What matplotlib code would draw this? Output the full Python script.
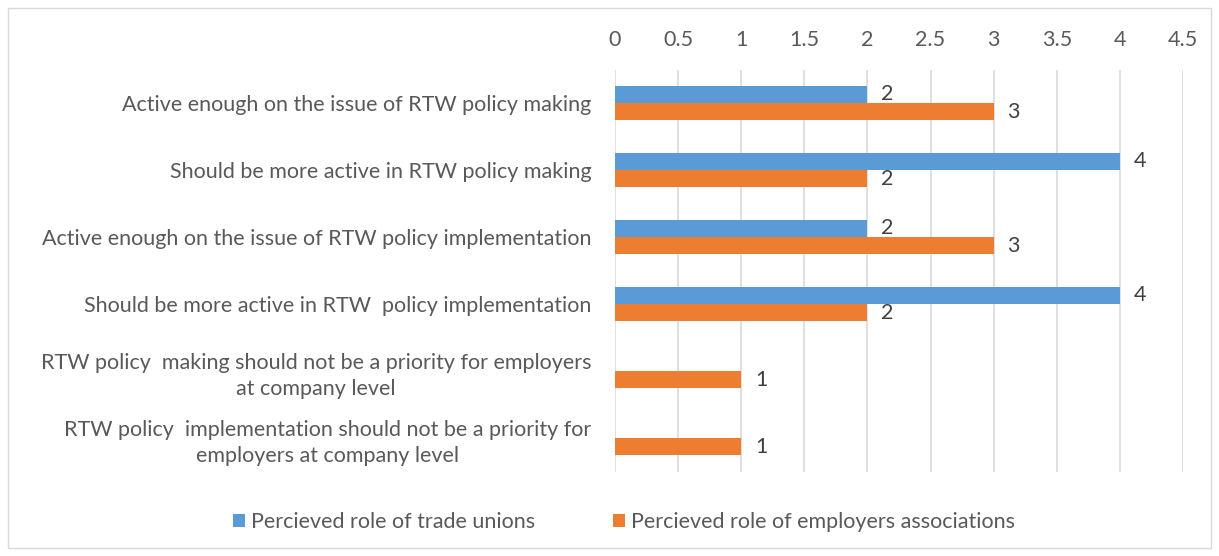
import numpy as np
import matplotlib.pyplot as plt
from matplotlib.patches import Rectangle

categories = [
    "Active enough on the issue of RTW policy making",
    "Should be more active in RTW policy making",
    "Active enough on the issue of RTW policy implementation",
    "Should be more active in RTW  policy implementation",
    "RTW policy  making should not be a priority for employers\nat company level",
    "RTW policy  implementation should not be a priority for\nemployers at company level",
]
trade_unions = [2, 4, 2, 4, np.nan, np.nan]
employers = [3, 2, 3, 2, 1, 1]
series_names = ["Percieved role of trade unions", "Percieved role of employers associations"]
xticks = [0, 0.5, 1, 1.5, 2, 2.5, 3, 3.5, 4, 4.5]

BLUE = "#5b9bd5"
ORANGE = "#ed7d31"
TEXT = "#595959"
GRID = "#d9d9d9"
FS = 15.5

plt.rcParams["font.family"] = ["Lato", "DejaVu Sans"]

W, H = 1219, 556
fig = plt.figure(figsize=(W / 100, H / 100), dpi=100)
ax = fig.add_axes([615 / W, 1 - 471.5 / H, (1183 - 615) / W, (471.5 - 69.5) / H])

y = np.arange(len(categories))
bh = 0.255
b1 = ax.barh(y - bh / 2, trade_unions, height=bh, color=BLUE, label=series_names[0], zorder=3)
b2 = ax.barh(y + bh / 2, employers, height=bh, color=ORANGE, label=series_names[1], zorder=3)

for bars, vals in ((b1, trade_unions), (b2, employers)):
    for rect, v in zip(bars, vals):
        if np.isnan(v):
            continue
        ax.annotate(f"{v:g}", (v, rect.get_y() + rect.get_height() / 2),
                    xytext=(10, 0), textcoords="offset points", ha="left", va="center",
                    fontsize=FS, color="#404040")

ax.set_xlim(0, 4.5)
ax.set_ylim(len(categories) - 0.5, -0.5)
ax.set_xticks(xticks)
ax.set_xticklabels([f"{t:g}" for t in xticks])
ax.xaxis.tick_top()
ax.tick_params(axis="x", length=0, pad=14, labelsize=FS, colors=TEXT)
ax.set_yticks(y)
ax.set_yticklabels(categories, fontsize=FS, color=TEXT, ha="right", multialignment="center",
                   linespacing=1.4)
ax.tick_params(axis="y", length=0, pad=17)
ax.grid(axis="x", color=GRID, linewidth=1.2, zorder=0)
for s in ax.spines.values():
    s.set_visible(False)

leg = fig.legend(handles=[b1, b2], loc="center", bbox_to_anchor=(624 / W, 1 - 522 / H),
                 ncol=2, frameon=False, fontsize=FS, handlelength=0.55, handleheight=0.55,
                 handletextpad=0.3, columnspacing=3.6)
for t in leg.get_texts():
    t.set_color(TEXT)

fig.patches.append(Rectangle((8 / W, 8 / H), 1 - 16 / W, 1 - 16 / H, transform=fig.transFigure,
                             fill=False, edgecolor=GRID, linewidth=1))

fig.savefig("out.png", dpi=100)
